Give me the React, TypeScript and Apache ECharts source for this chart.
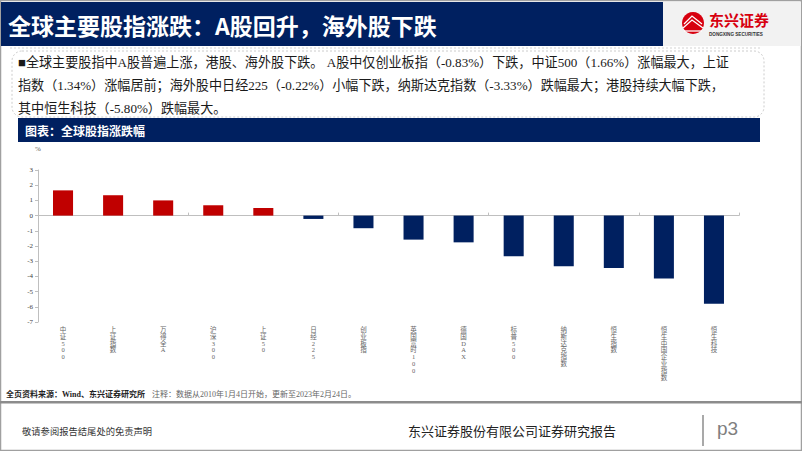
import React, { useEffect, useRef } from "react";
import * as echarts from "echarts";

const categories = ["中证500", "上证指数", "万得全A", "沪深300", "上证50", "日经225", "创业板指", "英国富时100", "德国DAX", "标普500", "纳斯达克指数", "恒生指数", "恒生中国企业指数", "恒生科技"];
const changes = [1.66, 1.34, 1.0, 0.68, 0.5, -0.22, -0.83, -1.58, -1.76, -2.68, -3.33, -3.45, -4.13, -5.8];
const yTicks = { min: -7, max: 3, interval: 1 };

const pageTitle = "全球主要股指涨跌：A股回升，海外股下跌";
const summaryLines = [
  "■全球主要股指中A股普遍上涨，港股、海外股下跌。 A股中仅创业板指（-0.83%）下跌，中证500（1.66%）涨幅最大，上证",
  "指数（1.34%）涨幅居前；海外股中日经225（-0.22%）小幅下跌，纳斯达克指数（-3.33%）跌幅最大；港股持续大幅下跌，",
  "其中恒生科技（-5.80%）跌幅最大。",
];
const chartTitle = "图表：全球股指涨跌幅";
const sourceBold = "全页资料来源：Wind、东兴证券研究所";
const sourceNote = "注释：数据从2010年1月4日开始，更新至2023年2月24日。";
const footerLeft = "敬请参阅报告结尾处的免责声明";
const footerCenter = "东兴证券股份有限公司证券研究报告";
const pageNo = "p3";

const NAVY = "#002060";
const RED = "#C00000";
const SERIF = "'Liberation Serif', 'Noto Sans CJK SC', serif";
const SANS = "'Noto Sans CJK SC', 'Noto Sans', sans-serif";

export default function App() {
  const ref = useRef<HTMLDivElement>(null);
  useEffect(() => {
    if (!ref.current) return;
    const chart = echarts.init(ref.current, undefined, { renderer: "svg" });
    const graphics: any[] = [
      { type: "rect", shape: { x: 0.5, y: 0.5, width: 801, height: 450 }, style: { fill: "none", stroke: "#A0A0A0", lineWidth: 1.5 }, z: 1 },
      { type: "rect", shape: { x: 1, y: 2, width: 662, height: 44 }, style: { fill: NAVY }, z: 2 },
      { type: "rect", shape: { x: 663, y: 2, width: 138, height: 44 }, style: { fill: "#F2F2F2" }, z: 2 },
      { type: "text", x: 8, y: 25, style: { text: pageTitle, fill: "#FFFFFF", fontSize: 23, fontWeight: "bold", fontFamily: SANS, textVerticalAlign: "middle" }, z: 3 },
      // logo
      { type: "circle", shape: { cx: 693, cy: 23, r: 11 }, style: { fill: "#D7000F" }, z: 3 },
      { type: "polyline", shape: { points: [[684, 24], [692, 16], [702, 24]] }, style: { stroke: "#FFFFFF", lineWidth: 1.3, fill: "none" }, z: 4 },
      { type: "polyline", shape: { points: [[683, 28], [692, 20], [703, 28]] }, style: { stroke: "#FFFFFF", lineWidth: 1.3, fill: "none" }, z: 4 },
      { type: "line", shape: { x1: 684, y1: 31, x2: 702, y2: 31 }, style: { stroke: "#FFFFFF", lineWidth: 1.3 }, z: 4 },
      { type: "text", x: 709, y: 19.5, style: { text: "东兴证券", fill: "#D7000F", fontSize: 15, fontWeight: "bold", fontFamily: SANS, textVerticalAlign: "middle" }, z: 3 },
      { type: "text", x: 709, y: 34.5, style: { text: "DONGXING SECURITIES", fill: "#333333", fontSize: 4.6, fontWeight: "bold", fontFamily: "'Liberation Sans', sans-serif", textVerticalAlign: "middle" }, z: 3 },
      { type: "line", shape: { x1: 10, y1: 48, x2: 762, y2: 48 }, style: { stroke: "#C8C8C8", lineWidth: 0.8, lineDash: [2, 2] }, z: 2 },
      // summary box
      { type: "rect", shape: { x: 12, y: 51, width: 752, height: 66, r: 10 }, style: { fill: "none", stroke: "#BFBFBF", lineWidth: 0.8, lineDash: [2, 2] }, z: 2 },
      ...summaryLines.map((t, i) => ({ type: "text", x: 18, y: 62 + i * 23, style: { text: t, fill: "#1A1A1A", fontSize: 13.1, fontFamily: SERIF, textVerticalAlign: "middle" }, z: 3 })),
      // chart title bar
      { type: "rect", shape: { x: 18, y: 118, width: 742, height: 24 }, style: { fill: NAVY }, z: 2 },
      { type: "text", x: 25, y: 130, style: { text: chartTitle, fill: "#FFFFFF", fontSize: 12, fontWeight: "bold", fontFamily: SANS, textVerticalAlign: "middle" }, z: 3 },
      // source
      { type: "text", x: 6, y: 394, style: { text: sourceBold, fill: "#222222", fontSize: 8, fontWeight: "bold", fontFamily: SERIF, textVerticalAlign: "middle" }, z: 3 },
      { type: "text", x: 152, y: 394, style: { text: sourceNote, fill: "#666666", fontSize: 8, fontFamily: SERIF, textVerticalAlign: "middle" }, z: 3 },
      { type: "rect", shape: { x: 0, y: 401, width: 802, height: 2.5 }, style: { fill: "#8C8C8C" }, z: 3 },
      // footer
      { type: "text", x: 22, y: 432, style: { text: footerLeft, fill: "#333333", fontSize: 9.3, fontFamily: SERIF, textVerticalAlign: "middle" }, z: 3 },
      { type: "text", x: 408, y: 431, style: { text: footerCenter, fill: "#222222", fontSize: 13, fontFamily: SERIF, textVerticalAlign: "middle" }, z: 3 },
      { type: "line", shape: { x1: 703, y1: 415, x2: 703, y2: 446 }, style: { stroke: "#8C8C8C", lineWidth: 1.5 }, z: 3 },
      { type: "text", x: 717, y: 428, style: { text: pageNo, fill: "#7F7F7F", fontSize: 19, fontFamily: "'Liberation Sans', Arial, sans-serif", textVerticalAlign: "middle" }, z: 3 },
    ];

    chart.setOption({
      animation: false,
      backgroundColor: "#FFFFFF",
      grid: { left: 38, right: 63, top: 170, bottom: 129, containLabel: false },
      xAxis: [
        {
          type: "category",
          data: categories,
          axisLine: { show: true, onZero: true, lineStyle: { color: "#BFBFBF", width: 1 } },
          axisTick: { show: true, inside: true, length: 3, lineStyle: { color: "#BFBFBF" } },
          axisLabel: { show: false },
          splitLine: { show: false },
        },
        {
          type: "category",
          data: categories,
          position: "bottom",
          axisLine: { show: false, onZero: false },
          axisTick: { show: false },
          splitLine: { show: false },
          axisLabel: {
            show: true,
            interval: 0,
            margin: 4,
            fontSize: 6.5,
            lineHeight: 6.8,
            color: "#666666",
            fontFamily: SERIF,
            formatter: (v: string) => v.split("").join("\n"),
          },
        },
      ],
      yAxis: {
        type: "value",
        min: yTicks.min,
        max: yTicks.max,
        interval: yTicks.interval,
        name: "%",
        nameLocation: "end",
        nameGap: 18,
        nameTextStyle: { fontSize: 7, color: "#595959", fontFamily: SERIF },
        axisLine: { show: true, lineStyle: { color: "#BFBFBF", width: 1 } },
        axisTick: { show: true, length: 3, lineStyle: { color: "#BFBFBF" } },
        axisLabel: { fontSize: 7, color: "#404040", margin: 5, fontFamily: SERIF },
        splitLine: { show: false },
      },
      series: [
        {
          type: "bar",
          data: changes,
          barWidth: "40%",
          itemStyle: { color: (p: any) => (p.value >= 0 ? RED : NAVY) },
        },
      ],
      graphic: graphics,
    });
    return () => chart.dispose();
  }, []);
  return <div ref={ref} style={{ position: "absolute", left: 0, top: 0, width: 802, height: 451 }} />;
}
